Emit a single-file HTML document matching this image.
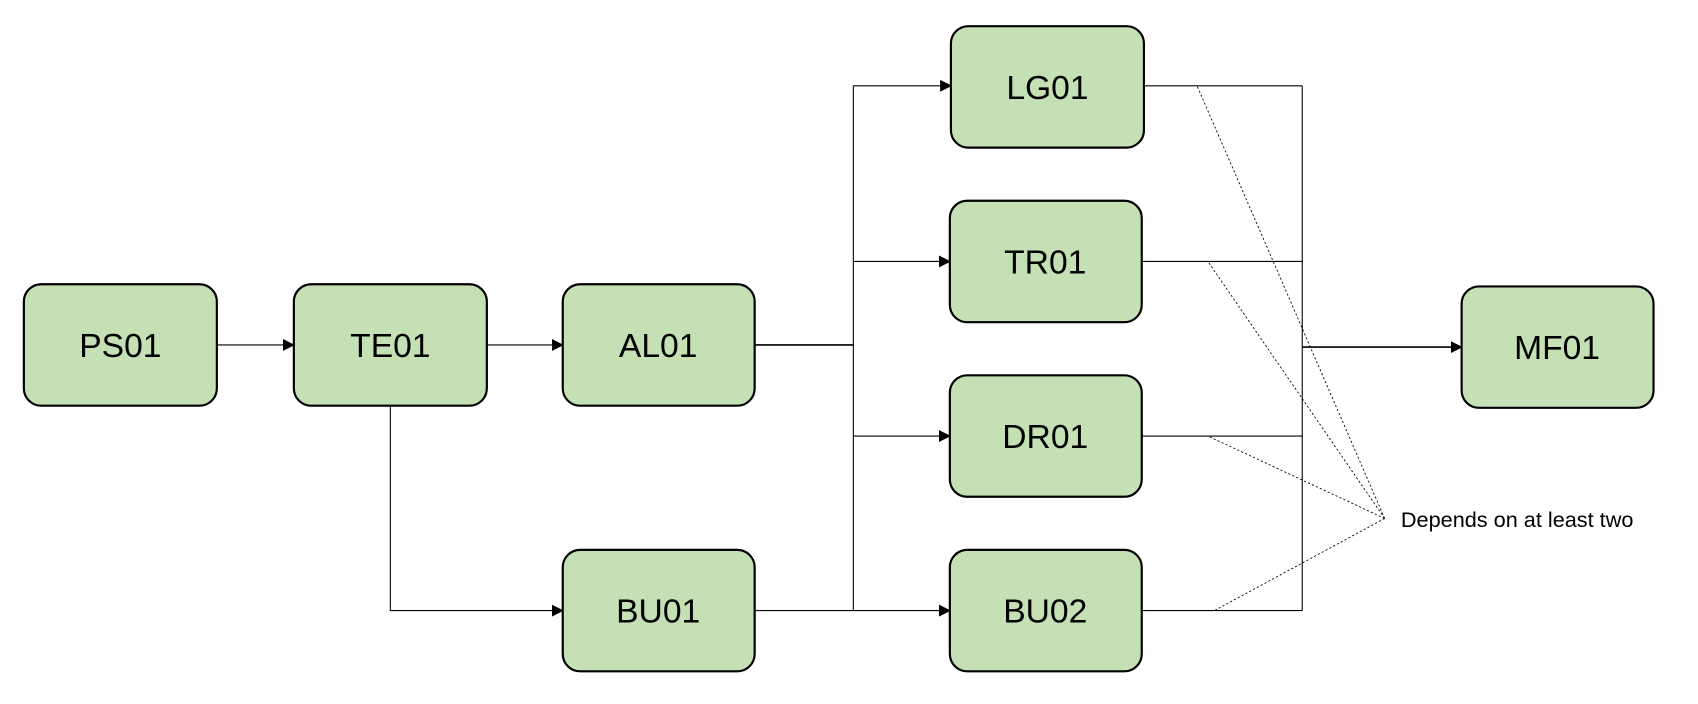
<!DOCTYPE html>
<html><head><meta charset="utf-8"><style>
html,body{margin:0;padding:0;background:#fff;}
svg{display:block;}
text{font-family:"Liberation Sans",sans-serif;}
</style></head><body>
<svg width="1698" height="704" viewBox="0 0 1566 649" xmlns="http://www.w3.org/2000/svg">
<defs>
<marker id="a" markerWidth="11" markerHeight="11" refX="10" refY="5.5" orient="auto" markerUnits="userSpaceOnUse">
<path d="M0,0 L11,5.5 L0,11 z" fill="#000"/>
</marker>
</defs>
<g fill="#c5e0b4" stroke="#000" stroke-width="2">
<rect x="22" y="262" width="178" height="112" rx="16"/>
<rect x="271" y="262" width="178" height="112" rx="16"/>
<rect x="519" y="262" width="177" height="112" rx="16"/>
<rect x="519" y="507" width="177" height="112" rx="16"/>
<rect x="877" y="24" width="178" height="112" rx="16"/>
<rect x="876" y="185" width="177" height="112" rx="16"/>
<rect x="876" y="346" width="177" height="112" rx="16"/>
<rect x="876" y="507" width="177" height="112" rx="16"/>
<rect x="1348" y="264" width="177" height="112" rx="16"/>
</g>
<g stroke="#000" stroke-width="1" fill="none">
<line x1="200" y1="318" x2="271" y2="318" marker-end="url(#a)"/>
<line x1="449" y1="318" x2="519" y2="318" marker-end="url(#a)"/>
<polyline points="360,374 360,563 519,563" marker-end="url(#a)"/>
<line x1="696" y1="318" x2="787" y2="318" stroke-width="1.5"/>
<line x1="787" y1="79" x2="787" y2="563"/>
<line x1="787" y1="79" x2="877" y2="79" marker-end="url(#a)"/>
<line x1="787" y1="241" x2="876" y2="241" marker-end="url(#a)"/>
<line x1="787" y1="402" x2="876" y2="402" marker-end="url(#a)"/>
<line x1="696" y1="563" x2="876" y2="563" marker-end="url(#a)"/>
<line x1="1055" y1="79" x2="1201" y2="79"/>
<line x1="1053" y1="241" x2="1201" y2="241"/>
<line x1="1053" y1="402" x2="1201" y2="402"/>
<line x1="1053" y1="563" x2="1201" y2="563"/>
<line x1="1201" y1="79" x2="1201" y2="563"/>
<line x1="1201" y1="320" x2="1348" y2="320" stroke-width="1.5" marker-end="url(#a)"/>
</g>
<g stroke="#000" stroke-width="0.8" stroke-dasharray="2,2" fill="none">
<line x1="1277" y1="478" x2="1104" y2="79"/>
<line x1="1277" y1="478" x2="1114" y2="241"/>
<line x1="1277" y1="478" x2="1114" y2="402"/>
<line x1="1277" y1="478" x2="1120" y2="563"/>
</g>
<g font-size="31" text-anchor="middle" fill="#000">
<text x="111" y="329">PS01</text>
<text x="360" y="329">TE01</text>
<text x="607" y="329">AL01</text>
<text x="607" y="574">BU01</text>
<text x="966" y="91">LG01</text>
<text x="964" y="252">TR01</text>
<text x="964" y="413">DR01</text>
<text x="964" y="574">BU02</text>
<text x="1436" y="331">MF01</text>
</g>
<text x="1292" y="486" font-size="20" fill="#000">Depends on at least two</text>
</svg>
</body></html>
